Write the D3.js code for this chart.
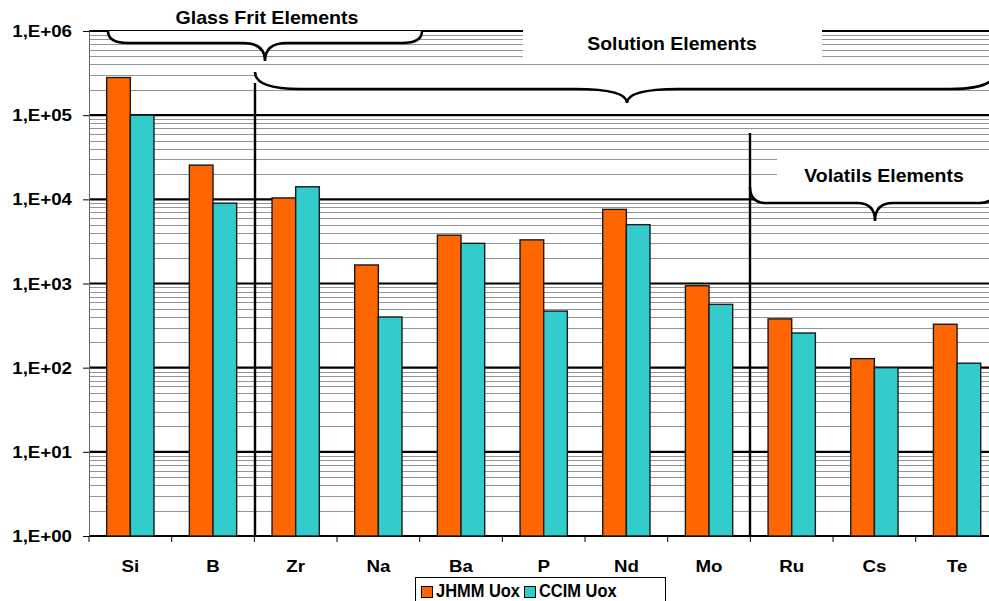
<!DOCTYPE html>
<html>
<head>
<meta charset="utf-8">
<script src="https://cdn.jsdelivr.net/npm/d3@7"></script>
<style>
  html, body { margin: 0; padding: 0; background: #fff; overflow: hidden; }
  svg { display: block; }
  text { font-family: "Liberation Sans", Arial, Helvetica, sans-serif; font-weight: bold; fill: #000; }
</style>
</head>
<body>
<svg id="chart" width="989" height="601"></svg>
<script>
// Elements measured, in order along the x axis
const elements = ["Si", "B", "Zr", "Na", "Ba", "P", "Nd", "Mo", "Ru", "Cs", "Te"];
// Series values (log scale)
const jhmmUox = [280000, 25500, 10400, 1660, 3750, 3300, 7600, 940, 380, 128, 328];
const ccimUox = [100000, 9000, 14100, 400, 3000, 470, 5000, 565, 258, 100, 113];
const seriesNames = ["JHMM Uox", "CCIM Uox"];
const seriesColors = ["#FF6600", "#33CCCC"];
// Decade tick values and labels
const yTicks = [1, 10, 100, 1000, 10000, 100000, 1000000];
const yTickLabels = ["1,E+00", "1,E+01", "1,E+02", "1,E+03", "1,E+04", "1,E+05", "1,E+06"];
// Group annotations
const groupLabels = ["Glass Frit Elements", "Solution Elements", "Volatils Elements"];

const svg = d3.select("#chart");
const plotL = 89, plotR = 998.4, plotT = 31, plotB = 536;

const x = d3.scaleBand().domain(elements).range([plotL, plotR]).padding(0);
const groupW = x.bandwidth() * 0.572;
const xs = d3.scaleBand().domain(seriesNames).range([0, groupW]).padding(0);
const y = d3.scaleLog().domain([1, 1e6]).range([plotB, plotT]);

// minor gridlines 2..9 x 10^n
const minor = [];
for (let n = 0; n < 6; n++) for (let k = 2; k <= 9; k++) minor.push(k * Math.pow(10, n));

const grid = svg.append("g");
grid.selectAll("line.minor").data(minor).join("line")
  .attr("class", "minor")
  .attr("x1", plotL).attr("x2", 989)
  .attr("y1", d => Math.round(y(d)) + 0.5).attr("y2", d => Math.round(y(d)) + 0.5)
  .attr("stroke", "#959595").attr("stroke-width", 1);
grid.selectAll("line.major").data(yTicks).join("line")
  .attr("class", "major")
  .attr("x1", plotL).attr("x2", 989)
  .attr("y1", d => y(d)).attr("y2", d => y(d))
  .attr("stroke", "#000").attr("stroke-width", 2.2);

// y axis
const yAxis = d3.axisLeft(y).tickValues(yTicks).tickSize(6).tickFormat("");
const yg = svg.append("g").attr("transform", `translate(${plotL},0)`).call(yAxis);
yg.select(".domain").attr("stroke", "#666").attr("stroke-width", 1);
yg.selectAll(".tick line").attr("stroke", "#000").attr("stroke-width", 1);

function sText(sel, str, tx, ty, size, sx, anchor) {
  return sel.append("text")
    .attr("transform", `translate(${tx},${ty}) scale(${sx},1)`)
    .attr("text-anchor", anchor)
    .style("font-size", size + "px")
    .text(str);
}
yTicks.forEach((t, i) => sText(svg, yTickLabels[i], 72, y(t) + 6, 17, 1.1, "end"));

// x axis ticks at category boundaries
const xAxis = d3.axisBottom(x).tickSize(0).tickFormat("");
const xg = svg.append("g").attr("transform", `translate(0,${plotB})`).call(xAxis);
xg.select(".domain").remove();
const bounds = elements.map(e => x(e)).concat([x(elements[elements.length - 1]) + x.step()]);
xg.selectAll("line.bt").data(bounds).join("line")
  .attr("class", "bt")
  .attr("x1", d => d).attr("x2", d => d).attr("y1", 0).attr("y2", 6)
  .attr("stroke", "#000").attr("stroke-width", 1);
elements.forEach(e => sText(svg, e, x(e) + x.bandwidth() / 2, 572, 17, 1.1, "middle"));

// bars
const rows = elements.map((e, i) => ({ el: e, vals: [jhmmUox[i], ccimUox[i]] }));
const bars = svg.append("g");
rows.forEach(r => {
  r.vals.forEach((v, j) => {
    const x0 = x(r.el) + (x.bandwidth() - groupW) / 2 + xs(seriesNames[j]);
    bars.append("rect")
      .attr("x", x0).attr("y", y(v))
      .attr("width", xs.bandwidth()).attr("height", plotB - y(v))
      .attr("fill", seriesColors[j])
      .attr("stroke", "#1a1a1a").attr("stroke-width", 1.4);
  });
});

// curly brace: ends at (x0,y0) and (x1,y0), flat part at yF, tip at (xt,yt)
function bracePath(x0, x1, y0, yF, xt, yt, rE, rT, close) {
  const p = d3.path();
  p.moveTo(x0, y0);
  p.quadraticCurveTo(x0, yF, x0 + rE, yF);
  p.lineTo(xt - rT, yF);
  p.quadraticCurveTo(xt, yF, xt, yt);
  p.quadraticCurveTo(xt, yF, xt + rT, yF);
  p.lineTo(x1 - rE, yF);
  p.quadraticCurveTo(x1, yF, x1, y0);
  if (close) p.closePath();
  return p.toString();
}
const braces = [
  [108, 422, 31, 43, 265, 61, 20, 22],
  [255, 995, 72, 89, 627, 103, 45, 52],
  [750, 996, 187, 203, 875, 221, 16, 18]
];
const ann = svg.append("g");
// white text boxes
ann.append("rect").attr("x", 523).attr("y", 0).attr("width", 299).attr("height", 61).attr("fill", "#fff");
ann.append("rect").attr("x", 777).attr("y", 151).attr("width", 212).attr("height", 36).attr("fill", "#fff");
braces.forEach(b => {
  ann.append("path").attr("d", bracePath(...b, true)).attr("fill", "#fff").attr("stroke", "none");
  ann.append("path").attr("d", bracePath(...b, false)).attr("fill", "none")
    .attr("stroke", "#000").attr("stroke-width", 2.6);
});
// group separators
ann.append("line").attr("x1", 255).attr("x2", 255).attr("y1", 83).attr("y2", plotB)
  .attr("stroke", "#000").attr("stroke-width", 2.4);
ann.append("line").attr("x1", 750).attr("x2", 750).attr("y1", 133).attr("y2", plotB)
  .attr("stroke", "#000").attr("stroke-width", 2.4);

sText(ann, groupLabels[0], 267, 24, 18, 1.09, "middle");
sText(ann, groupLabels[1], 672, 50, 18, 1.08, "middle");
sText(ann, groupLabels[2], 884, 182, 18, 1.08, "middle");

// legend
const lg = svg.append("g");
lg.append("rect").attr("x", 415.5).attr("y", 577.5).attr("width", 250).attr("height", 40)
  .attr("fill", "#fff").attr("stroke", "#000").attr("stroke-width", 1);
const legX = [421, 524];
seriesNames.forEach((s, i) => {
  lg.append("rect").attr("x", legX[i] + 0.5).attr("y", 586.5).attr("width", 11).attr("height", 11)
    .attr("fill", seriesColors[i]).attr("stroke", "#000").attr("stroke-width", 1);
  sText(lg, s, legX[i] + 15, 597, 17.5, 0.94, "start");
});
</script>
</body>
</html>
